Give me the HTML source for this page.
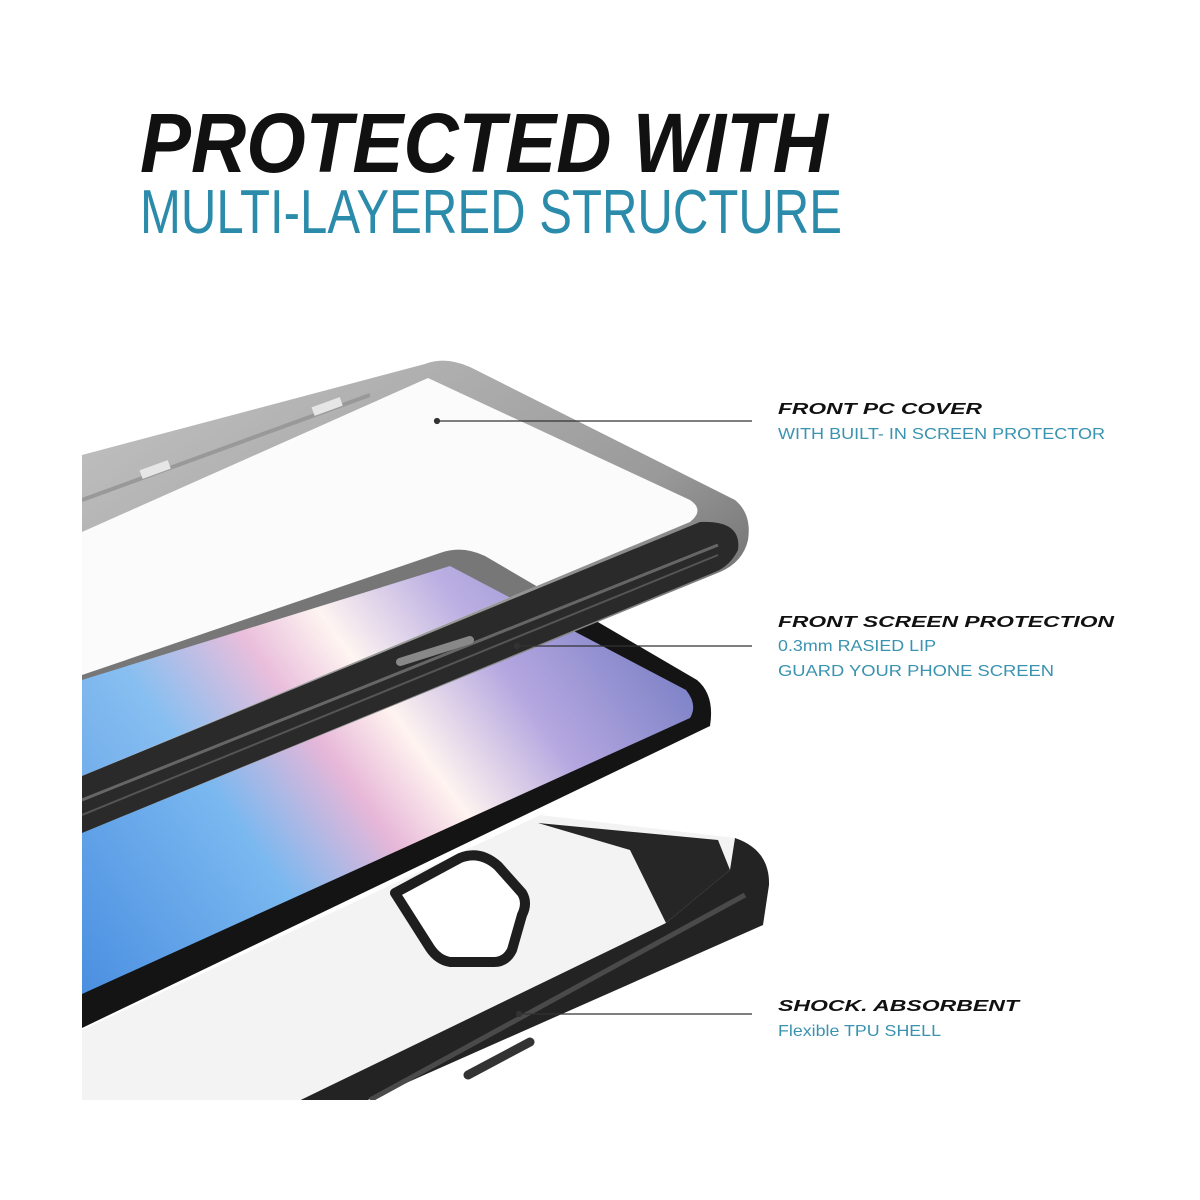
<!DOCTYPE html>
<html><head><meta charset="utf-8"><style>
html,body{margin:0;padding:0;background:#fff;}
svg{display:block}
</style></head><body>
<svg width="1200" height="1200" viewBox="0 0 1200 1200" xmlns="http://www.w3.org/2000/svg">
<defs>
<clipPath id="c"><rect x="82" y="340" width="700" height="760"/></clipPath>
<clipPath id="op"><path d="M82 532 L428 378 L690 500 Q705 510 690 522 L82 776 Z"/></clipPath>
<linearGradient id="scr" gradientUnits="userSpaceOnUse" x1="82" y1="1000" x2="700" y2="550">
<stop offset="0" stop-color="#4a8ee0"/>
<stop offset="0.3" stop-color="#7ab8f0"/>
<stop offset="0.45" stop-color="#e7b7d8"/>
<stop offset="0.55" stop-color="#fff4f0"/>
<stop offset="0.7" stop-color="#b5a7e0"/>
<stop offset="1" stop-color="#5b6cb8"/>
</linearGradient>
<linearGradient id="gry" x1="0" y1="0" x2="1" y2="1">
<stop offset="0" stop-color="#c4c4c4"/><stop offset="0.55" stop-color="#9a9a9a"/><stop offset="1" stop-color="#3a3a3a"/>
</linearGradient>
</defs>
<text x="140" y="172" font-family="Liberation Sans, sans-serif" font-weight="bold" font-style="italic" font-size="84" fill="#111" textLength="688" lengthAdjust="spacingAndGlyphs">PROTECTED WITH</text>
<text x="140" y="233" font-family="Liberation Sans, sans-serif" font-size="62" fill="#2b8bab" textLength="702" lengthAdjust="spacingAndGlyphs">MULTI-LAYERED STRUCTURE</text>

<g clip-path="url(#c)">
<!-- back TPU case -->
<path d="M82 1030 L540 815 L735 838 Q770 850 769 885 L763 925 L345 1110 L82 1110 Z" fill="#f3f3f3"/>
<path d="M735 838 Q770 850 769 885 L763 925 L345 1110 L280 1110 L666 923 L730 870 Z" fill="#232323"/>
<path d="M745 895 L370 1100" stroke="#4a4a4a" stroke-width="5"/>
<path d="M538 823 L718 840 L730 870 L666 923 L630 850 Z" fill="#262626"/>
<path d="M395 893 L460 858 Q480 850 498 866 L522 893 Q528 903 522 915 L512 950 Q506 962 494 962 L450 962 Q438 960 430 948 Z" fill="#fff" stroke="#1e1e1e" stroke-width="10" stroke-linejoin="round"/>
<path d="M468 1075 L530 1042" stroke="#333" stroke-width="9" stroke-linecap="round"/>
<!-- phone -->
<path d="M82 675 L440 553 Q462 545 485 556 L697 680 Q715 695 710 726 L82 1028 Z" fill="#141414"/>
<path d="M82 680 L450 566 L686 690 Q698 705 690 718 L82 994 Z" fill="url(#scr)"/>
<!-- front PC cover -->
<path d="M82 455 L425 364 Q445 356 470 367 L735 500 Q752 514 748 540 Q743 562 720 572 L82 833 Z" fill="url(#gry)"/>
<path d="M82 532 L428 378 L690 500 Q705 510 690 522 L82 776 Z" fill="#fbfbfb"/>
<g clip-path="url(#op)" opacity="0.9">
<path d="M82 675 L440 553 Q462 545 485 556 L697 680 Q715 695 710 726 L82 1028 Z" fill="#2a2a2a" opacity="0.7"/>
<path d="M82 680 L450 566 L686 690 Q698 705 690 718 L82 994 Z" fill="url(#scr)"/>
</g>
<path d="M82 776 L700 522 Q742 520 738 550 Q730 566 715 572 L82 833 Z" fill="#2a2a2a"/>
<path d="M82 800 L718 545" stroke="#666" stroke-width="3"/>
<path d="M82 815 L718 555" stroke="#555" stroke-width="2"/>
<path d="M82 500 L370 395" stroke="#999" stroke-width="4"/>
<rect x="140" y="465" width="30" height="9" fill="#e6e6e6" transform="rotate(-20 155 469)"/>
<rect x="312" y="402" width="30" height="9" fill="#e6e6e6" transform="rotate(-20 327 406)"/>
<path d="M400 662 L470 640" stroke="#888" stroke-width="8" stroke-linecap="round"/>
</g>

<g stroke="#333" stroke-width="1.2" fill="#333">
<line x1="437" y1="421" x2="752" y2="421"/><circle cx="437" cy="421" r="2.5"/>
<line x1="517" y1="646" x2="752" y2="646"/><circle cx="517" cy="646" r="2.5"/>
<line x1="519" y1="1014" x2="752" y2="1014"/><circle cx="519" cy="1014" r="2.5"/>
</g>
<g font-family="Liberation Sans, sans-serif">
<text x="778" y="414" font-weight="bold" font-style="italic" font-size="16" fill="#111" textLength="204" lengthAdjust="spacingAndGlyphs">FRONT PC COVER</text>
<text x="778" y="439" font-size="16" fill="#3a93b0" textLength="327" lengthAdjust="spacingAndGlyphs">WITH BUILT- IN SCREEN PROTECTOR</text>
<text x="778" y="627" font-weight="bold" font-style="italic" font-size="16" fill="#111" textLength="336" lengthAdjust="spacingAndGlyphs">FRONT SCREEN PROTECTION</text>
<text x="778" y="651" font-size="16" fill="#3a93b0" textLength="158" lengthAdjust="spacingAndGlyphs">0.3mm RASIED LIP</text>
<text x="778" y="676" font-size="16" fill="#3a93b0" textLength="276" lengthAdjust="spacingAndGlyphs">GUARD YOUR PHONE SCREEN</text>
<text x="778" y="1011" font-weight="bold" font-style="italic" font-size="16" fill="#111" textLength="241" lengthAdjust="spacingAndGlyphs">SHOCK. ABSORBENT</text>
<text x="778" y="1036" font-size="16" fill="#3a93b0" textLength="163" lengthAdjust="spacingAndGlyphs">Flexible TPU SHELL</text>
</g>
</svg>
</body></html>
